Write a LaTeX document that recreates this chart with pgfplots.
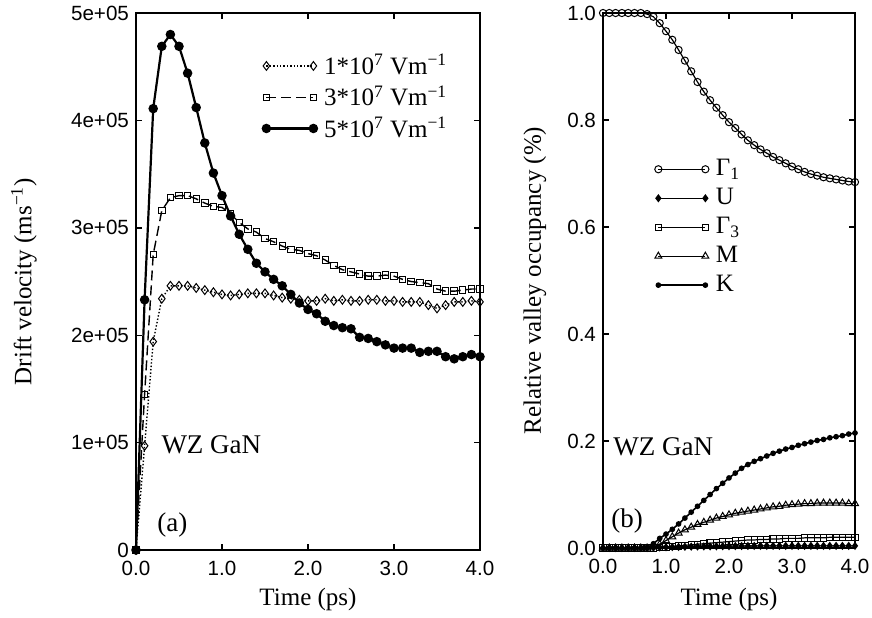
\documentclass[border=0pt]{standalone}
\usepackage{fontspec}
\setmainfont{Liberation Serif}
\newfontfamily\hel{Liberation Sans}
\usepackage{pgfplots}
\usepackage{pgfplotstable}
\pgfplotsset{compat=1.18}

\pgfplotstableread{
t    va     vb     vc
0.0  0      0      0
0.1  97000  145000 233000
0.2  194000 275000 411000
0.3  234000 316000 469000
0.4  246000 328000 480000
0.5  246000 330000 469000
0.6  246000 330000 444000
0.7  244000 327000 412000
0.8  242000 323000 379000
0.9  240000 320000 351000
1.0  238000 319000 330000
1.1  237000 313000 311000
1.2  238000 305000 294000
1.3  239000 299000 280000
1.4  239000 296000 267000
1.5  239000 290000 259000
1.6  237000 287000 252000
1.7  235000 283000 246000
1.8  234000 280000 238000
1.9  233000 279000 230000
2.0  232000 276000 224000
2.1  232000 274000 220000
2.2  234000 270000 213000
2.3  232000 265000 209000
2.4  233000 261000 207000
2.5  232000 259000 206000
2.6  232000 257000 198000
2.7  233000 255000 197000
2.8  233000 255000 194000
2.9  232000 256000 191000
3.0  232000 255000 188000
3.1  231000 252000 188000
3.2  231000 250000 188000
3.3  231000 249000 184000
3.4  228000 248000 185000
3.5  225000 243000 185000
3.6  228000 241000 180000
3.7  231000 241000 178000
3.8  231000 242000 180000
3.9  232000 243000 182000
4.0  231000 243000 180000
}\leftdata

\pgfplotstableread{
t    G1     U       G3     M      K
0.0  1.000  0.0000  0.000  0.000  0.000
0.1  1.000  0.0000  0.000  0.000  0.000
0.2  1.000  0.0000  0.000  0.000  0.000
0.3  1.000  0.0000  0.000  0.000  0.000
0.4  1.000  0.0000  0.000  0.000  0.000
0.5  1.000  0.0000  0.000  0.000  0.000
0.6  1.000  0.0000  0.000  0.000  0.000
0.7  0.998  0.0000  0.000  0.000  0.001
0.8  0.993  0.0005  0.000  0.002  0.008
0.9  0.981  0.0010  0.001  0.007  0.018
1.0  0.966  0.0015  0.002  0.014  0.026
1.1  0.950  0.0018  0.003  0.021  0.035
1.2  0.931  0.0020  0.004  0.028  0.045
1.3  0.911  0.0023  0.005  0.034  0.056
1.4  0.891  0.0026  0.006  0.039  0.067
1.5  0.871  0.0028  0.007  0.044  0.078
1.6  0.853  0.0030  0.008  0.048  0.089
1.7  0.837  0.0031  0.009  0.052  0.100
1.8  0.823  0.0032  0.010  0.056  0.111
1.9  0.809  0.0034  0.011  0.059  0.121
2.0  0.796  0.0035  0.012  0.062  0.131
2.1  0.785  0.0036  0.013  0.065  0.140
2.2  0.773  0.0037  0.014  0.067  0.149
2.3  0.762  0.0038  0.015  0.069  0.156
2.4  0.753  0.0039  0.015  0.071  0.162
2.5  0.745  0.0040  0.016  0.073  0.167
2.6  0.738  0.0040  0.016  0.075  0.172
2.7  0.731  0.0040  0.017  0.077  0.177
2.8  0.725  0.0040  0.017  0.078  0.181
2.9  0.719  0.0040  0.018  0.080  0.185
3.0  0.713  0.0040  0.018  0.081  0.188
3.1  0.708  0.0040  0.018  0.082  0.192
3.2  0.703  0.0040  0.019  0.083  0.195
3.3  0.699  0.0040  0.019  0.083  0.198
3.4  0.696  0.0040  0.019  0.084  0.201
3.5  0.693  0.0040  0.019  0.084  0.203
3.6  0.691  0.0040  0.020  0.084  0.206
3.7  0.689  0.0040  0.020  0.084  0.208
3.8  0.687  0.0040  0.020  0.084  0.210
3.9  0.685  0.0040  0.020  0.083  0.213
4.0  0.684  0.0040  0.020  0.083  0.215
}\rightdata

\pgfplotsset{
  common/.style={
    scale only axis, anchor=south west, clip=false,
    axis line style={line width=0.9pt},
    tick align=inside, major tick length=3pt,
    every tick/.style={black, line width=0.7pt},
    /pgf/number format/assume math mode=true,
    ticklabel style={font=\hel\fontsize{10.3}{12}\selectfont},
    xmin=0, xmax=4, xtick={0,1,2,3,4},
    xticklabel style={yshift=-2pt, /pgf/number format/.cd, fixed, fixed zerofill, precision=1},
    label style={font=\fontsize{12.5}{14}\selectfont},
    legend image code/.code={\draw[mark repeat=2,mark phase=1,#1] plot coordinates {(0pt,0pt) (11.75pt,0pt) (23.5pt,0pt)};},
  }
}

\begin{document}
\begin{tikzpicture}
\path[use as bounding box] (0,0) rectangle (436pt,-308.5pt);

\begin{axis}[common,
  at={(68pt,-275pt)}, width=172pt, height=268.5pt,
  ymin=0, ymax=500000, ytick={0,100000,200000,300000,400000,500000},
  yticklabels={0,1e+05,2e+05,3e+05,4e+05,5e+05}, scaled y ticks=false,
  xlabel={Time (ps)}, ylabel={Drift velocity (ms\textsuperscript{−1})},
  xlabel style={at={(axis description cs:0.5,-0.092)}, anchor=center},
  ylabel style={at={(axis description cs:-0.326,0.5)}, anchor=center},
  legend style={draw=none, fill=none, at={(rel axis cs:0.35,0.935)}, anchor=north west,
    font=\fontsize{12.5}{14}\selectfont, row sep=2pt, column sep=2.5pt, cells={anchor=west},
    nodes={inner sep=1pt}},
]
\addplot[black, line width=0.7pt, densely dotted, mark=diamond, mark size=2.2pt,
  mark options={solid, fill=white, line width=0.5pt}] table[x=t, y=va] {\leftdata};
\addlegendentry{1*10\textsuperscript{7} Vm\textsuperscript{−1}}
\addplot[black, line width=0.7pt, dash pattern=on 5pt off 2.5pt, mark=square, mark size=1.6pt,
  mark options={solid, fill=white, line width=0.5pt}] table[x=t, y=vb] {\leftdata};
\addlegendentry{3*10\textsuperscript{7} Vm\textsuperscript{−1}}
\addplot[black, line width=1.1pt, mark=*, mark size=1.8pt,
  mark options={solid}] table[x=t, y=vc] {\leftdata};
\addlegendentry{5*10\textsuperscript{7} Vm\textsuperscript{−1}}
\node[anchor=west, inner sep=0pt, font=\fontsize{13.5}{15}\selectfont] at (rel axis cs:0.073,0.196) {WZ GaN};
\node[anchor=west, inner sep=0pt, font=\fontsize{13.5}{15}\selectfont] at (rel axis cs:0.061,0.047) {(a)};
\end{axis}

\begin{axis}[common,
  at={(301.5pt,-274pt)}, width=126pt, height=267.5pt,
  ymin=0, ymax=1, ytick={0,0.2,0.4,0.6,0.8,1.0},
  yticklabel style={/pgf/number format/.cd, fixed, fixed zerofill, precision=1},
  xlabel={Time (ps)}, ylabel={Relative valley occupancy (\%)},
  xlabel style={at={(axis description cs:0.5,-0.096)}, anchor=center},
  ylabel style={at={(axis description cs:-0.27,0.5)}, anchor=center},
  legend style={draw=none, fill=none, at={(rel axis cs:0.18,0.738)}, anchor=north west,
    font=\fontsize{12.5}{14}\selectfont, row sep=2.8pt, column sep=2.5pt, cells={anchor=west},
    nodes={inner sep=1pt}},
]
\addplot[black, line width=0.6pt, mark=o, mark size=1.8pt,
  mark options={line width=0.5pt}] table[x=t, y=G1] {\rightdata};
\addlegendentry{Γ\textsubscript{1}}
\addplot[black, line width=0.6pt, mark=diamond*, mark size=1.6pt] table[x=t, y=U] {\rightdata};
\addlegendentry{U}
\addplot[black, line width=0.6pt, mark=square, mark size=1.6pt,
  mark options={line width=0.5pt}] table[x=t, y=G3] {\rightdata};
\addlegendentry{Γ\textsubscript{3}}
\addplot[black, line width=0.6pt, mark=triangle, mark size=2pt,
  mark options={line width=0.5pt}] table[x=t, y=M] {\rightdata};
\addlegendentry{M}
\addplot[black, line width=0.8pt, mark=*, mark size=1pt] table[x=t, y=K] {\rightdata};
\addlegendentry{K}
\node[anchor=west, inner sep=0pt, font=\fontsize{13.5}{15}\selectfont] at (rel axis cs:0.04,0.189) {WZ GaN};
\node[anchor=west, inner sep=0pt, font=\fontsize{13.5}{15}\selectfont] at (rel axis cs:0.032,0.05) {(b)};
\end{axis}
\end{tikzpicture}
\end{document}
